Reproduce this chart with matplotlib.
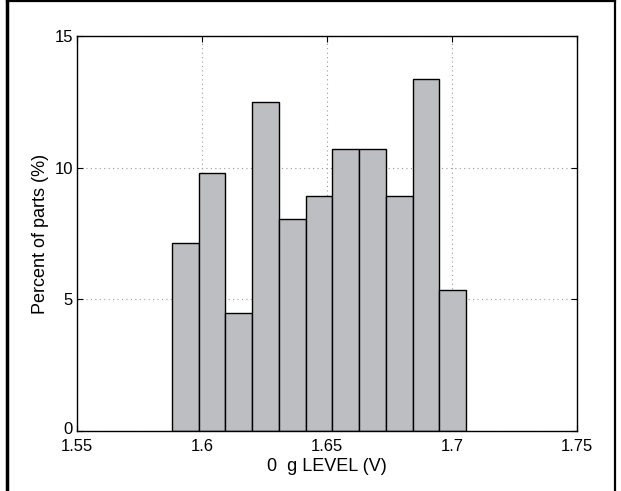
import numpy as np
import matplotlib.pyplot as plt
import matplotlib.transforms as mtransforms
from matplotlib.lines import Line2D

plt.rcParams['font.family'] = ['Liberation Sans', 'DejaVu Sans']

# histogram of 0 g level, 112 parts
bin_left = 1.5879
bin_width = 0.01071
percent = [7.14, 9.82, 4.46, 12.50, 8.04, 8.93, 10.71, 10.71, 8.93, 13.39, 5.36]

xticks = [1.55, 1.6, 1.65, 1.7, 1.75]
xticklabels = ['1.55', '1.6', '1.65', '1.7', '1.75']
yticks = [0, 5, 10, 15]

edges = bin_left + bin_width * np.arange(len(percent))

fig = plt.figure(figsize=(6.21, 4.91), dpi=100)
ax = fig.add_axes([0.124, 0.1228, 0.805, 0.8029])

ax.bar(edges, percent, width=bin_width, align='edge',
       color='#bdbec2', edgecolor='black', linewidth=1.0, zorder=2)

ax.set_xlim(1.55, 1.75)
ax.set_ylim(0, 15)
ax.set_xticks(xticks)
ax.set_xticklabels(xticklabels)
ax.set_yticks(yticks)
ax.tick_params(direction='in', top=True, right=True, length=4,
               width=0.8, labelsize=12)
ax.tick_params(axis='x', pad=6)
ax.tick_params(axis='y', pad=3)
ax.grid(True, linestyle=(0, (1, 3)), color='#999999', linewidth=0.8, zorder=0)
ax.set_axisbelow(True)
for s in ax.spines.values():
    s.set_linewidth(1.0)

# the "0" sits a little above the corner so it clears "1.55"
lab0 = ax.get_yticklabels()[0]
lab0.set_transform(lab0.get_transform() +
                   mtransforms.ScaledTranslation(0, 3 / 100, fig.dpi_scale_trans))

ax.set_xlabel('0  g LEVEL (V)', fontsize=13, labelpad=3)
ax.set_ylabel('Percent of parts (%)', fontsize=13, labelpad=4)

# frame around the figure
fig.add_artist(Line2D([0.012, 0.012], [0, 1], transform=fig.transFigure,
                      color='black', linewidth=2.5))
fig.add_artist(Line2D([0.012, 0.99], [0.997, 0.997], transform=fig.transFigure,
                      color='black', linewidth=1.6))
fig.add_artist(Line2D([0.99, 0.99], [0, 0.997], transform=fig.transFigure,
                      color='black', linewidth=1.6))

fig.savefig('out.png', dpi=100)
